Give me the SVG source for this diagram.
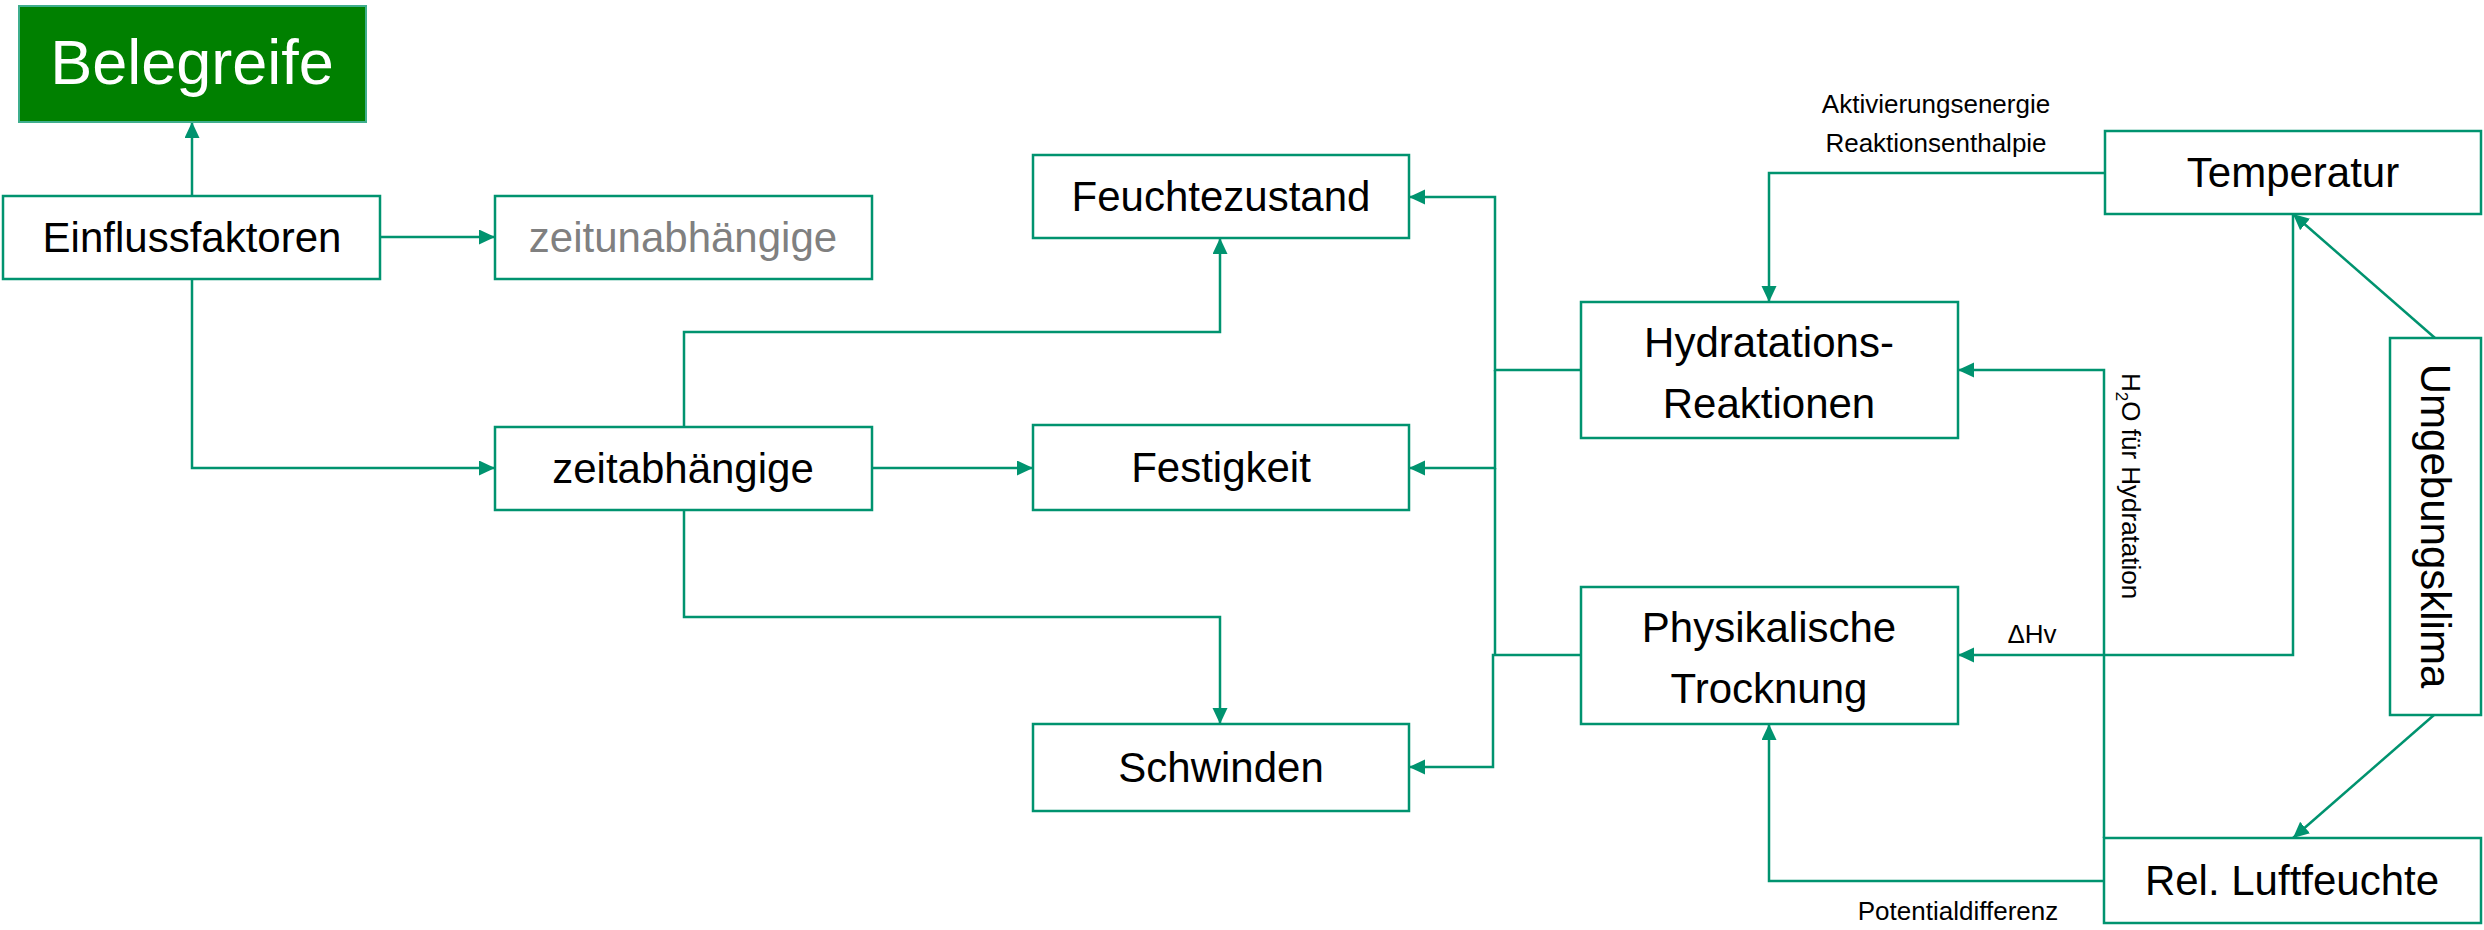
<svg xmlns="http://www.w3.org/2000/svg" width="2484" height="930" viewBox="0 0 2484 930">
<style>
.box{fill:#ffffff;stroke:#00936f;stroke-width:2.5}
.t{font-family:"Liberation Sans",Arial,sans-serif;font-size:42px;fill:#000;text-anchor:middle}
.lbl{font-family:"Liberation Sans",Arial,sans-serif;font-size:26px;fill:#000;text-anchor:middle}
.c{fill:none;stroke:#00936f;stroke-width:2.5}
.a{marker-end:url(#ah)}
</style>
<defs>
<marker id="ah" markerUnits="userSpaceOnUse" markerWidth="17" markerHeight="16" refX="16" refY="7.5" orient="auto">
<path d="M0,0 L16,7.5 L0,15 z" fill="#00936f"/>
</marker>
</defs>
<rect width="2484" height="930" fill="#ffffff"/>
<g id="connectors">
<path class="c a" d="M192,196 V122"/>
<path class="c a" d="M380,237 H495"/>
<path class="c a" d="M192,279 V468 H495"/>
<path class="c a" d="M684,427 V332 H1220 V238"/>
<path class="c a" d="M872,468 H1033"/>
<path class="c a" d="M684,510 V617 H1220 V724"/>
<path class="c a" d="M1581,370 H1495 V197 H1409"/>
<path class="c a" d="M1495,370 V468 H1409"/>
<path class="c" d="M1495,468 V655"/>
<path class="c a" d="M1581,655 H1493 V767 H1409"/>
<path class="c a" d="M2105,173 H1769 V302"/>
<path class="c a" d="M2293,214 V655 H1958"/>
<path class="c a" d="M2435,338 L2293,214"/>
<path class="c a" d="M2434,715 L2293,838"/>
<path class="c a" d="M2104,838 V370 H1958"/>
<path class="c a" d="M2104,881 H1769 V724"/>
<text class="lbl" x="1936" y="113">Aktivierungsenergie</text>
<text class="lbl" x="1936" y="152">Reaktionsenthalpie</text>
<text class="lbl" x="2032" y="643">ΔHv</text>
<text class="lbl" style="text-anchor:start" transform="translate(2122,373) rotate(90)">H<tspan dy="6" font-size="17">2</tspan><tspan dy="-6">O für Hydratation</tspan></text>
<text class="lbl" x="1958" y="920">Potentialdifferenz</text>
</g>
<g id="belegreife">
<rect x="19" y="6" width="347" height="116" fill="#008000" stroke="#3fae8e" stroke-width="2"/>
<text class="t" x="192" y="84" style="font-size:63px;fill:#ffffff">Belegreife</text>
</g>
<g id="einflussfaktoren">
<rect class="box" x="3" y="196" width="377" height="83"/>
<text class="t" x="192" y="252">Einflussfaktoren</text>
</g>
<g id="zeitunabhaengige">
<rect class="box" x="495" y="196" width="377" height="83"/>
<text class="t" x="683" y="252" style="fill:#808080">zeitunabhängige</text>
</g>
<g id="zeitabhaengige">
<rect class="box" x="495" y="427" width="377" height="83"/>
<text class="t" x="683" y="483">zeitabhängige</text>
</g>
<g id="feuchtezustand">
<rect class="box" x="1033" y="155" width="376" height="83"/>
<text class="t" x="1221" y="211">Feuchtezustand</text>
</g>
<g id="festigkeit">
<rect class="box" x="1033" y="425" width="376" height="85"/>
<text class="t" x="1221" y="482">Festigkeit</text>
</g>
<g id="schwinden">
<rect class="box" x="1033" y="724" width="376" height="87"/>
<text class="t" x="1221" y="782">Schwinden</text>
</g>
<g id="hydratations-reaktionen">
<rect class="box" x="1581" y="302" width="377" height="136"/>
<text class="t" x="1769" y="357">Hydratations-</text>
<text class="t" x="1769" y="418">Reaktionen</text>
</g>
<g id="physikalische-trocknung">
<rect class="box" x="1581" y="587" width="377" height="137"/>
<text class="t" x="1769" y="642">Physikalische</text>
<text class="t" x="1769" y="703">Trocknung</text>
</g>
<g id="temperatur">
<rect class="box" x="2105" y="131" width="376" height="83"/>
<text class="t" x="2293" y="187">Temperatur</text>
</g>
<g id="umgebungsklima">
<rect class="box" x="2390" y="338" width="91" height="377"/>
<text class="t" transform="translate(2421,526) rotate(90)">Umgebungsklima</text>
</g>
<g id="rel-luftfeuchte">
<rect class="box" x="2104" y="838" width="377" height="85"/>
<text class="t" x="2292" y="895">Rel. Luftfeuchte</text>
</g>
</svg>
